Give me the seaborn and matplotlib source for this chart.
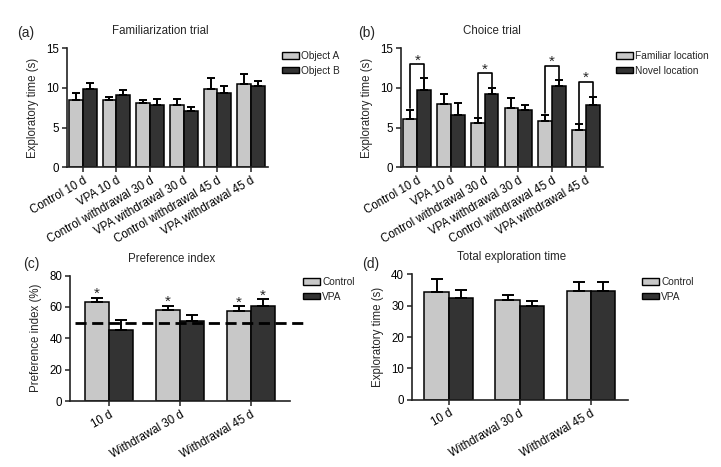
import numpy as np
import pandas as pd
import matplotlib
matplotlib.use("Agg")
import matplotlib.pyplot as plt
import seaborn as sns
from matplotlib.patches import Patch

# ---------------- data ----------------
groups_ab = ["Control 10 d", "VPA 10 d", "Control withdrawal 30 d",
             "VPA withdrawal 30 d", "Control withdrawal 45 d", "VPA withdrawal 45 d"]

fam_obj_a = [8.5, 8.5, 8.15, 7.85, 9.9, 10.55]
fam_obj_a_err = [0.9, 0.4, 0.3, 0.7, 1.3, 1.15]
fam_obj_b = [9.83, 9.1, 7.85, 7.1, 9.33, 10.25]
fam_obj_b_err = [0.77, 0.7, 0.72, 0.55, 0.97, 0.65]

choice_familiar = [6.1, 8.0, 5.58, 7.52, 5.87, 4.73]
choice_familiar_err = [1.17, 1.25, 0.62, 1.18, 0.76, 0.67]
choice_novel = [9.76, 6.63, 9.25, 7.22, 10.3, 7.9]
choice_novel_err = [1.44, 1.44, 0.72, 0.6, 0.73, 0.93]
choice_sig_groups = [0, 2, 4, 5]
choice_bracket_heights = [12.97, 11.83, 12.76, 10.77]

groups_cd = ["10 d", "Withdrawal 30 d", "Withdrawal 45 d"]
pref_control = [63.1, 58.2, 57.6]
pref_control_err = [2.5, 2.3, 2.7]
pref_vpa = [45.3, 51.2, 60.7]
pref_vpa_err = [6.6, 3.6, 4.1]
pref_control_sig = [True, True, True]
pref_vpa_sig = [False, False, True]
chance_level = 50

total_control = [34.3, 31.8, 34.8]
total_control_err = [4.2, 1.5, 2.8]
total_vpa = [32.3, 29.8, 34.7]
total_vpa_err = [2.7, 1.8, 2.7]

LIGHT = "#c8c8c8"
DARK = "#333333"

# ---------------- style ----------------
sns.set_theme(style="ticks")
plt.rcParams["font.family"] = ["Liberation Sans", "DejaVu Sans"]
plt.rcParams["font.size"] = 8.3
FS = 8.3
LEG_FS = 7.3

W, H = 721, 467
fig = plt.figure(figsize=(W / 100, H / 100), dpi=100)


def px_axes(l, r, t, b):
    return fig.add_axes([l / W, 1 - b / H, (r - l) / W, (b - t) / H])


def draw_bars(ax, cats, s1, s1e, s2, s2e, names, width, capsize):
    n = len(cats)
    df = pd.DataFrame({"cat": list(cats) * 2, "val": list(s1) + list(s2),
                       "series": [names[0]] * n + [names[1]] * n})
    sns.barplot(data=df, x="cat", y="val", hue="series", order=cats,
                hue_order=names, palette=[LIGHT, DARK], saturation=1,
                edgecolor="black", linewidth=1.1, width=width,
                errorbar=None, legend=False, ax=ax)
    centers = []
    for cont, errs in zip(ax.containers, [s1e, s2e]):
        cs = []
        for bar, e in zip(cont, errs):
            x = bar.get_x() + bar.get_width() / 2
            top = bar.get_height()
            ax.errorbar(x, top, yerr=[[0], [e]], fmt="none", ecolor="black",
                        elinewidth=1.4, capsize=capsize, capthick=1.4, zorder=1)
            cs.append(x)
        centers.append(cs)
    ax.set_xlabel("")
    ax.set_ylabel("")
    for s in ["top", "right"]:
        ax.spines[s].set_visible(False)
    for s in ["left", "bottom"]:
        ax.spines[s].set_linewidth(1.2)
        ax.spines[s].set_color("#222222")
    ax.tick_params(direction="out", length=3.5, width=1.1, labelsize=FS,
                   pad=2, colors="#222222", labelcolor="black")
    ax.set_xticks(range(n))
    ax.set_xticklabels(cats, rotation=30, ha="right", va="top",
                       rotation_mode="anchor")
    return centers


def add_legend(names, x, y):
    handles = [Patch(facecolor=LIGHT, edgecolor="black", linewidth=1),
               Patch(facecolor=DARK, edgecolor="black", linewidth=1)]
    fig.legend(handles, names, loc="upper left", bbox_to_anchor=(x / W, 1 - y / H),
               bbox_transform=fig.transFigure, frameon=False, fontsize=LEG_FS,
               borderpad=0, borderaxespad=0, handlelength=1.65, handleheight=0.65,
               handletextpad=0.25, labelspacing=0.45)


def star(ax, x, y_px_above, yval):
    # asterisk placed a few pixels above yval
    ax.annotate("*", xy=(x, yval), xytext=(0, y_px_above), textcoords="offset pixels",
                ha="center", va="baseline", fontsize=11)


# ---------------- (a) ----------------
ax_a = px_axes(66.7, 268.3, 48.3, 167.3)
draw_bars(ax_a, groups_ab, fam_obj_a, fam_obj_a_err, fam_obj_b, fam_obj_b_err,
          ["Object A", "Object B"], 0.82, 2.6)
ax_a.set_ylim(0, 15)
ax_a.set_yticks([0, 5, 10, 15])
ax_a.set_xlim(-0.475, 5.51)
ax_a.set_ylabel("Exploratory time (s)", fontsize=FS, labelpad=5)
ax_a.set_title("Familiarization trial", fontsize=FS, x=0.463, pad=10)
add_legend(["Object A", "Object B"], 282, 51)

# ---------------- (b) ----------------
ax_b = px_axes(400.7, 602.7, 48.3, 167.3)
cb = draw_bars(ax_b, groups_ab, choice_familiar, choice_familiar_err,
               choice_novel, choice_novel_err,
               ["Familiar location", "Novel location"], 0.82, 2.6)
ax_b.set_ylim(0, 15)
ax_b.set_yticks([0, 5, 10, 15])
ax_b.set_xlim(-0.49, 5.5)
ax_b.set_ylabel("Exploratory time (s)", fontsize=FS, labelpad=5)
ax_b.set_title("Choice trial", fontsize=FS, x=0.45, pad=10)
for g, h in zip(choice_sig_groups, choice_bracket_heights):
    x1, x2 = cb[0][g], cb[1][g]
    y1 = choice_familiar[g] + choice_familiar_err[g] + 0.2
    y2 = choice_novel[g] + choice_novel_err[g] + 0.1
    ax_b.plot([x1, x1, x2, x2], [y1, h, h, y2], color="black", lw=1.2,
              clip_on=False, zorder=4)
    star(ax_b, (x1 + x2) / 2, 0, h)
add_legend(["Familiar location", "Novel location"], 616, 51)

# ---------------- (c) ----------------
ax_c = px_axes(70.0, 290.0, 275.5, 401.0)
cc = draw_bars(ax_c, groups_cd, pref_control, pref_control_err, pref_vpa,
               pref_vpa_err, ["Control", "VPA"], 0.68, 4.6)
ax_c.set_ylim(0, 80)
ax_c.set_yticks([0, 20, 40, 60, 80])
ax_c.set_xlim(-0.55, 2.55)
ax_c.set_ylabel("Preference index (%)", fontsize=FS, labelpad=5)
ax_c.set_title("Preference index", fontsize=FS, x=0.46, pad=10)
ax_c.plot([-0.48, 2.75], [chance_level, chance_level], color="black", lw=2,
          ls=(0, (4, 2)), clip_on=False, zorder=5)
for vals, errs, sigs, xs in [(pref_control, pref_control_err, pref_control_sig, cc[0]),
                             (pref_vpa, pref_vpa_err, pref_vpa_sig, cc[1])]:
    for v, e, s, x in zip(vals, errs, sigs, xs):
        if s:
            star(ax_c, x, 0, v + e)
add_legend(["Control", "VPA"], 303, 277)

# ---------------- (d) ----------------
ax_d = px_axes(411.7, 628.3, 274.3, 399.7)
draw_bars(ax_d, groups_cd, total_control, total_control_err, total_vpa,
          total_vpa_err, ["Control", "VPA"], 0.68, 4.2)
ax_d.set_ylim(0, 40)
ax_d.set_yticks([0, 10, 20, 30, 40])
ax_d.set_xlim(-0.52, 2.53)
ax_d.set_ylabel("Exploratory time (s)", fontsize=FS, labelpad=5)
ax_d.set_title("Total exploration time", fontsize=FS, x=0.463, pad=10)
add_legend(["Control", "VPA"], 642, 277)

# ---------------- panel labels ----------------
for lab, x, y in [("(a)", 16.7, 33), ("(b)", 358, 33), ("(c)", 23, 264), ("(d)", 362, 264)]:
    fig.text(x / W, 1 - y / H, lab, ha="left", va="center", fontsize=10)

fig.savefig("out.png", dpi=100, facecolor="white")
